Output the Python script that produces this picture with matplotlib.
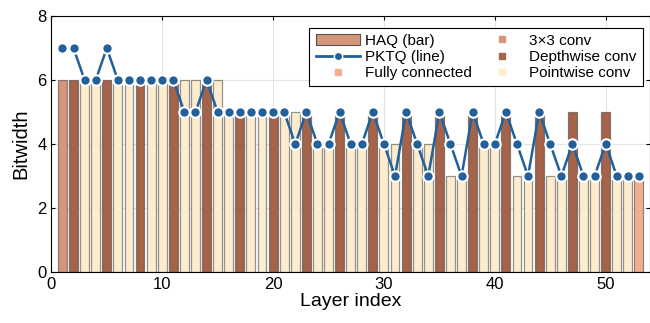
import matplotlib.pyplot as plt
from matplotlib.lines import Line2D
from matplotlib.patches import Patch

plt.rcParams['font.family'] = ['Liberation Sans', 'DejaVu Sans']

# layer types of MobileNetV2 (53 layers)
layer_types = (['conv'] + ['dw', 'pw'] + ['pw', 'dw', 'pw'] * 16 + ['pw', 'fc'])
layers = list(range(1, len(layer_types) + 1))

# HAQ bitwidth per layer (bars)
haq = [6, 6, 6, 6, 6, 5.9, 5.9, 5.9, 5.9, 5.9,
       5.9, 6, 6, 5.9, 6, 4.9, 4.9, 4.9, 4.9, 4.9,
       4.9, 5, 4.9, 3.9, 3.9, 4.9, 3.9, 3.9, 4.9, 3.9,
       4, 4.9, 3.9, 4, 4.9, 3, 2.9, 4.9, 3.9, 3.9,
       4.9, 3, 2.9, 4.9, 3, 2.9, 5, 2.9, 2.9, 5,
       2.9, 2.9, 2.9]

# PKTQ bitwidth per layer (line)
pktq = [7, 7, 6, 6, 7, 6, 6, 6, 6, 6,
        6, 5, 5, 6, 5, 5, 5, 5, 5, 5,
        5, 4, 5, 4, 4, 5, 4, 4, 5, 4,
        3, 5, 4, 3, 5, 4, 3, 5, 4, 4,
        5, 4, 3, 5, 4, 3, 4, 3, 3, 4,
        3, 3, 3]

colors = {'conv': '#d59679', 'dw': '#a5644a', 'pw': '#fdecce', 'fc': '#f2ae90'}
line_color = '#23609a'

fig = plt.figure(figsize=(6.5, 3.23), dpi=100)
ax = fig.add_axes([0.079, 0.158, 0.921, 0.792])

bar_colors = [colors[t] for t in layer_types]
ax.bar(layers, haq, width=0.8, color=bar_colors, edgecolor=(0.25, 0.25, 0.25, 0.55),
       linewidth=0.9, zorder=2)
ax.plot(layers, pktq, color=line_color, linewidth=1.8, marker='o', markersize=7.5,
        markerfacecolor=line_color, markeredgecolor='white', markeredgewidth=1.5, zorder=3)

ax.set_xlim(0, 54)
ax.set_ylim(0, 8)
ax.set_xticks([0, 10, 20, 30, 40, 50])
ax.set_yticks([0, 2, 4, 6, 8])
ax.grid(True, color='#e3e3e3', linewidth=0.8, zorder=0)
ax.set_axisbelow(True)
ax.tick_params(direction='in', length=3, labelsize=12, top=True, right=True, width=0.8)
for s in ax.spines.values():
    s.set_linewidth(0.8)
ax.set_xlabel('Layer index', fontsize=14, labelpad=1)
ax.set_ylabel('Bitwidth', fontsize=14.5, labelpad=5)

handles = [
    Patch(facecolor=colors['conv'], edgecolor='#555555', linewidth=0.8),
    Line2D([], [], color=line_color, linewidth=2, marker='o', markersize=6,
           markerfacecolor=line_color, markeredgecolor='white'),
    Line2D([], [], linestyle='none', marker='s', markersize=4, color=colors['fc']),
    Line2D([], [], linestyle='none', marker='s', markersize=4, color=colors['conv']),
    Line2D([], [], linestyle='none', marker='s', markersize=4, color=colors['dw']),
    Line2D([], [], linestyle='none', marker='s', markersize=4, color=colors['pw']),
]
labels = ['HAQ (bar)', 'PKTQ (line)', 'Fully connected',
          '3\u00d73 conv', 'Depthwise conv', 'Pointwise conv']
leg = ax.legend(handles, labels, ncol=2, loc='upper right', bbox_to_anchor=(0.988, 0.955),
                fontsize=11, frameon=True, fancybox=False, edgecolor='black', framealpha=1,
                borderpad=0.4, labelspacing=0.15, handlelength=2.9, handletextpad=0.35,
                columnspacing=0.5, borderaxespad=0)
leg.get_frame().set_linewidth(0.8)

fig.savefig('out.png', dpi=100)
